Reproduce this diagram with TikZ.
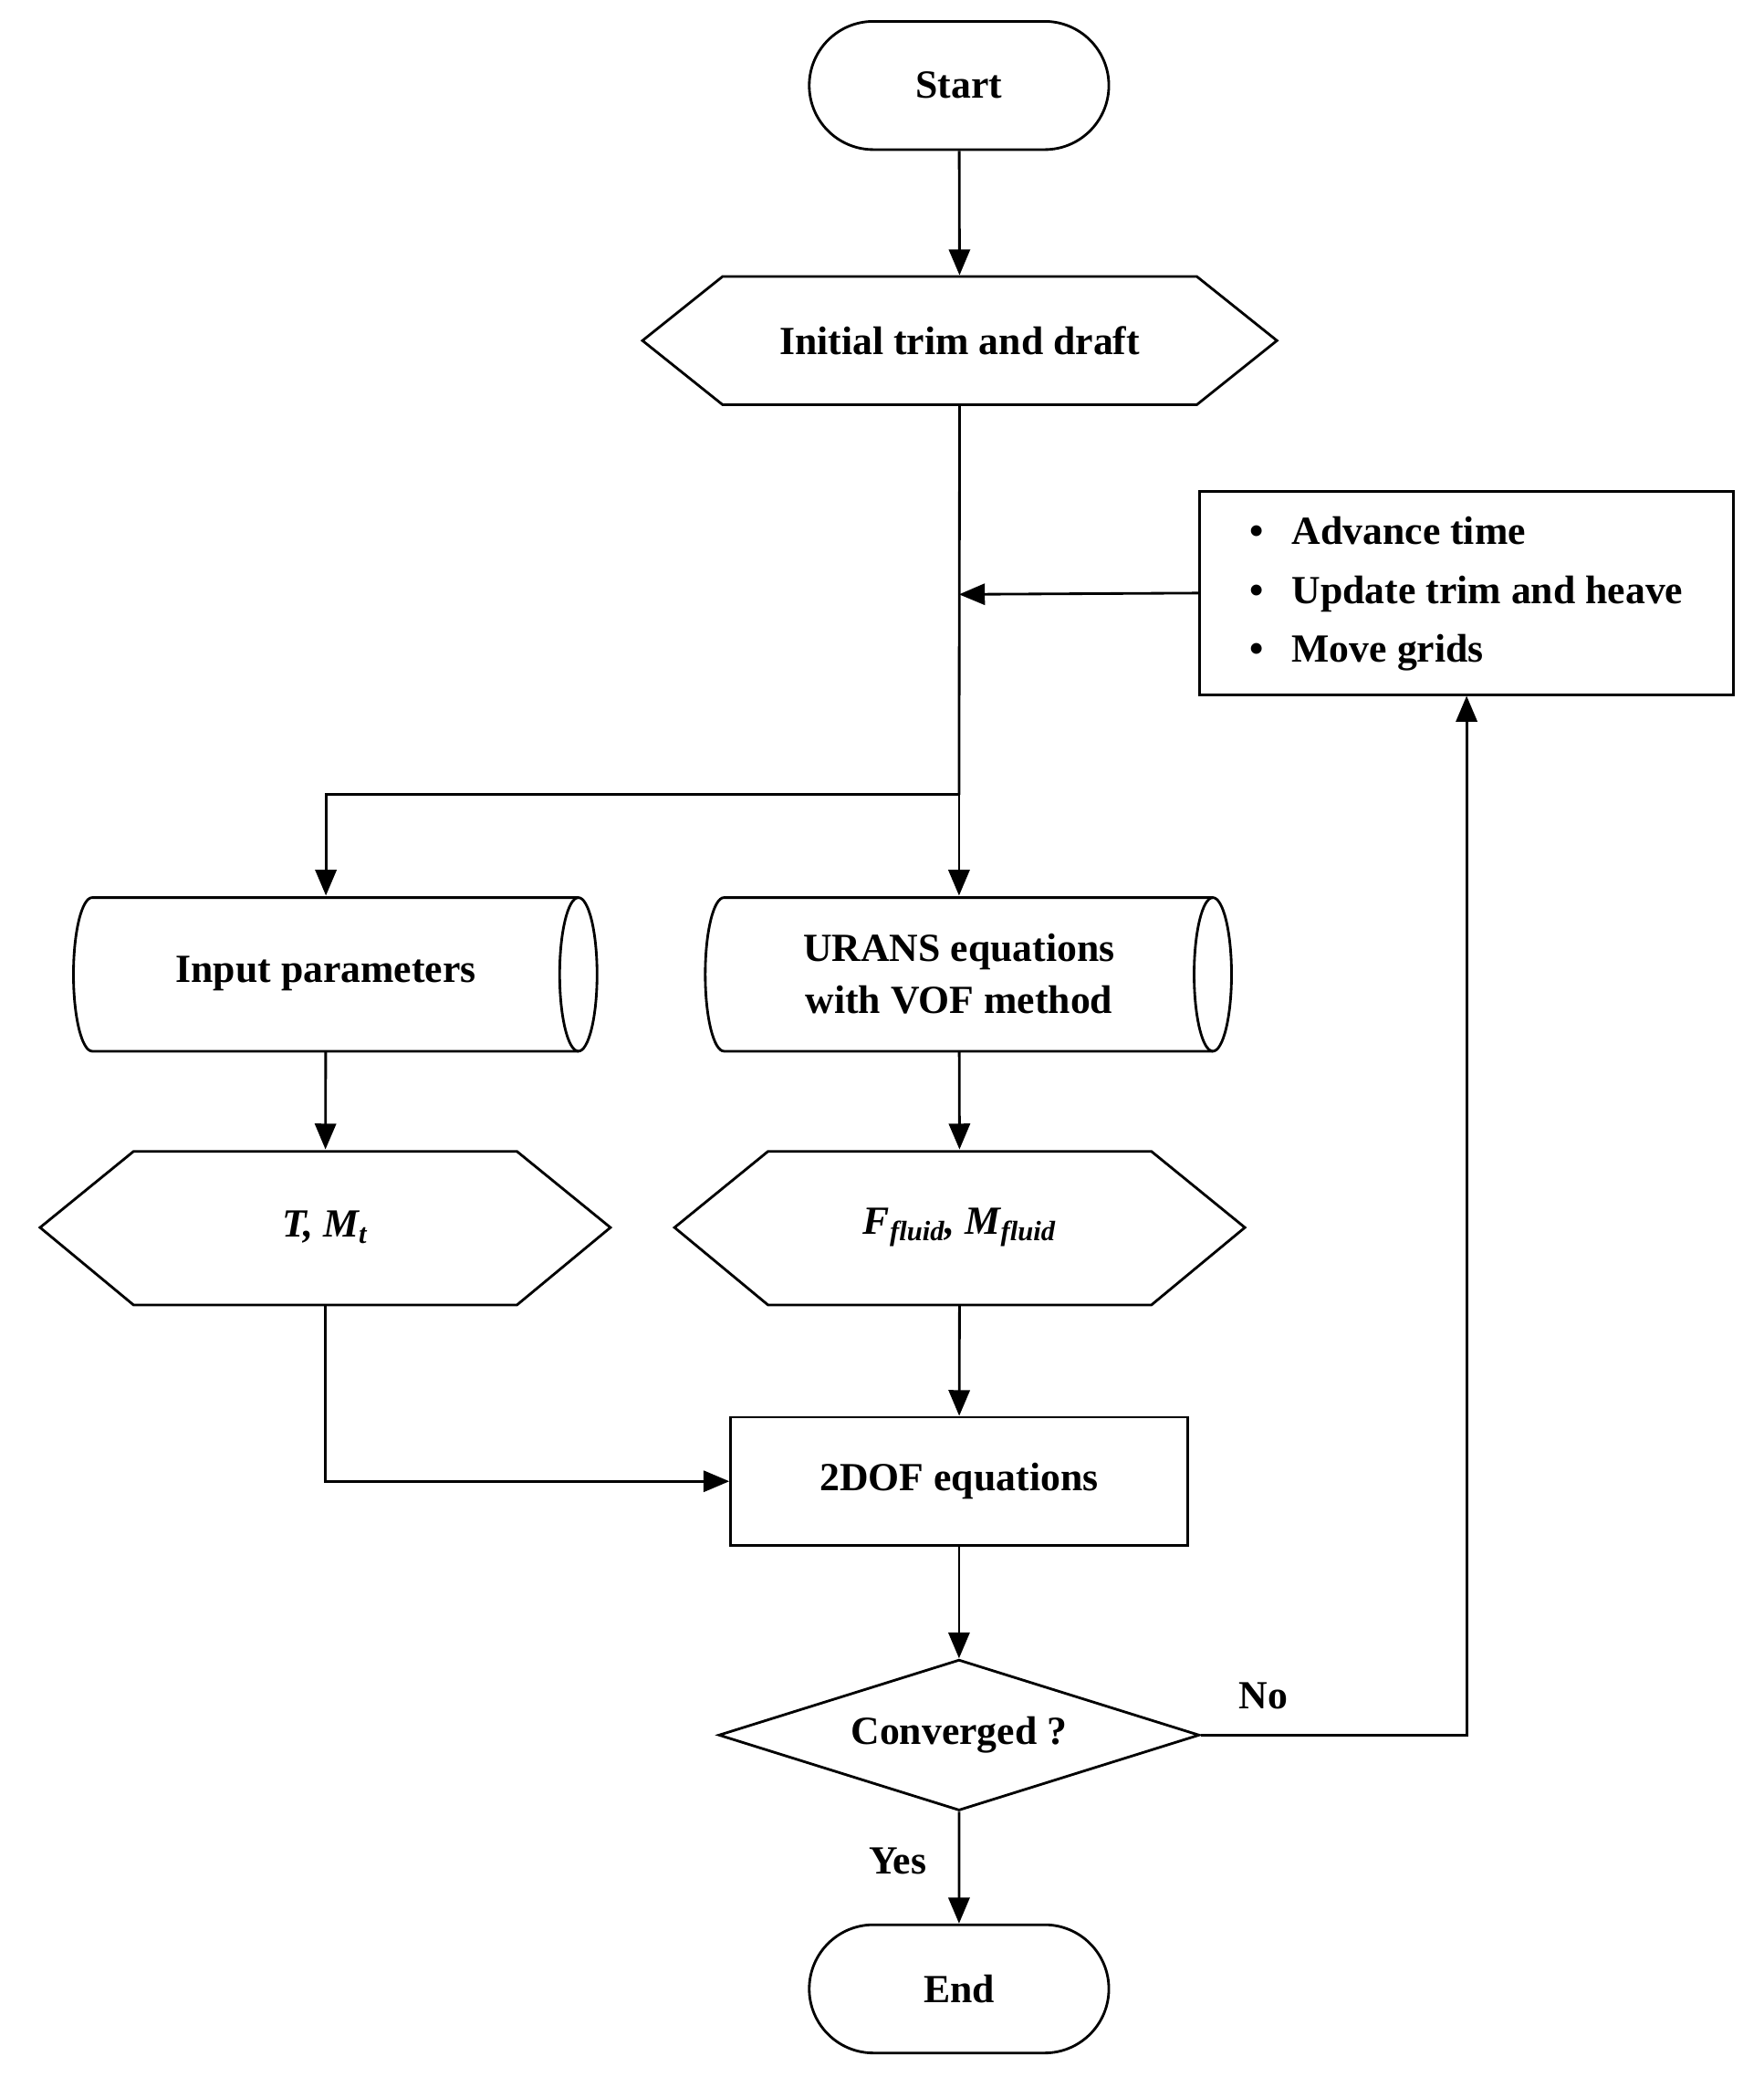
\documentclass[tikz,border=0pt]{standalone}
\usepackage{fontspec}
\setmainfont{Liberation Serif}
\usetikzlibrary{shapes.geometric,shapes.misc,calc,arrows.meta}
\begin{document}
\begin{tikzpicture}[x=0.02cm,y=-0.02cm,
  font=\fontsize{17}{22}\selectfont\bfseries,
  line width=1.1pt,
  box/.style={draw,minimum width=#1*0.02cm,align=center,inner sep=0pt},
  ghost/.style={minimum width=#1*0.02cm,align=center,inner sep=0pt},
  arr/.style={-{Triangle[length=11pt,width=9pt]}}]
\useasboundingbox (0,0) rectangle (1320,1555);
% Start / End
\node[draw,rounded rectangle,minimum width=236*0.02cm,minimum height=96*0.02cm] (start) at (718,64) {Start};
\node[draw,rounded rectangle,minimum width=236*0.02cm,minimum height=96*0.02cm] (end) at (718,1489) {End};
% Hexagons
\node[ghost=475,minimum height=96*0.02cm] (init) at (718.5,255) {Initial trim and draft};
\draw (481,255)--(541,207)--(896,207)--(956,255)--(896,303)--(541,303)--cycle;
\node[ghost=427,minimum height=115*0.02cm] (tm) at (243.5,919) {\itshape T, M\textsubscript{\itshape t}};
\draw (30,919)--(100,862)--(387,862)--(457,919)--(387,977)--(100,977)--cycle;
\node[ghost=427,minimum height=115*0.02cm] (ff) at (718.5,919) {\itshape F\textsubscript{\itshape fluid}, M\textsubscript{\itshape fluid}};
\draw (505,919)--(575,862)--(862,862)--(932,919)--(862,977)--(575,977)--cycle;
% Cylinders
\node[ghost=392,minimum height=115*0.02cm] (inp) at (244,729) {Input parameters};
\draw (69,672)--(433,672) (69,787)--(433,787)
  (69,672) arc[start angle=90,end angle=270,x radius=14,y radius=-57.5];
\draw (433,729.5) ellipse[x radius=14,y radius=57.5];
\node[ghost=392,minimum height=115*0.02cm] (ur) at (718,729) {URANS equations\\with VOF method};
\draw (542,672)--(908,672) (542,787)--(908,787)
  (542,672) arc[start angle=90,end angle=270,x radius=14,y radius=-57.5];
\draw (908,729.5) ellipse[x radius=14,y radius=57.5];
% Rectangles
\node[box=342,minimum height=96*0.02cm] (dof) at (718,1109) {2DOF equations};
\node[box=400,minimum height=152*0.02cm,align=left] (upd) at (1098,444) {%
  \begin{tabular}{@{}l@{}}\textbullet\hspace{0.7em}Advance time\\[3pt]
  \textbullet\hspace{0.7em}Update trim and heave\\[3pt]
  \textbullet\hspace{0.7em}Move grids\end{tabular}};
% Diamond
\node[draw,diamond,aspect=3.2,minimum width=360*0.02cm,minimum height=113*0.02cm,inner sep=0pt] (conv) at (718,1299) {Converged ?};
% Connectors
\coordinate (j1) at (718,445);
\coordinate (j2) at (718,595);
\draw[arr] (start) -- (init);
\draw (init) -- (j2);
\draw[arr] (upd.west) -- (j1);
\draw[arr] (j2) -| (inp.north);
\draw[arr] (j2) -- (ur.north);
\draw[arr] (inp) -- (tm);
\draw[arr] (ur) -- (ff);
\draw[arr] (ff) -- (dof);
\draw[arr] (tm.south) |- (dof.west);
\draw[arr] (dof) -- (conv);
\draw[arr] (conv.east) -| (upd.south);
\draw[arr] (conv) -- (end);
\node (no) at (946,1270) {No};
\node (yes) at (672,1393) {Yes};
\end{tikzpicture}
\end{document}
